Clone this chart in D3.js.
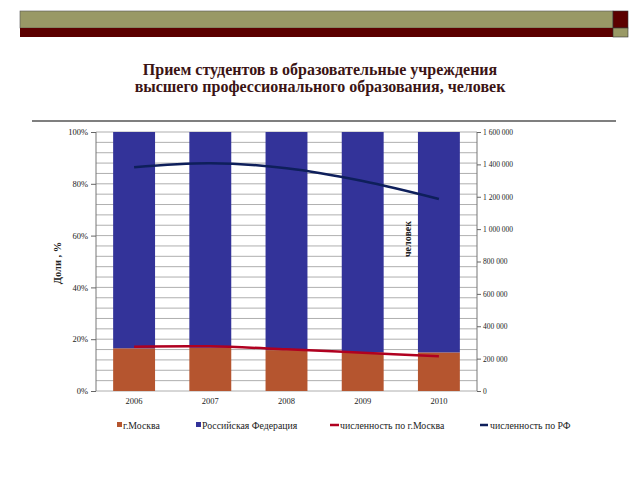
<!DOCTYPE html>
<html><head><meta charset="utf-8">
<script src="https://cdn.jsdelivr.net/npm/d3@7"></script>
<style>body{margin:0;background:#fff}svg{display:block}text{font-family:"Liberation Serif","Times New Roman",serif}</style>
</head><body>
<svg id="c" width="640" height="480"></svg>
<script>
const years = ["2006","2007","2008","2009","2010"];
const moscowShare = [16.5, 16.7, 15.8, 14.9, 14.9];
const rfShare = [83.5, 83.3, 84.2, 85.1, 85.1];
const moscowCount = [274000, 276000, 258000, 236000, 214000];
const rfCount = [1382000, 1407000, 1376000, 1297000, 1186000];
const leftTicks = [0, 20, 40, 60, 80, 100];
const rightTicks = [0, 200000, 400000, 600000, 800000, 1000000, 1200000, 1400000, 1600000];
const legendLabels = ["г.Москва", "Российская Федерация", "численность по  г.Москва", "численность по РФ"];
const titleLines = ["Прием студентов в образовательные учреждения", "высшего профессионального образования, человек"];

const svg = d3.select("#c");
const L = 96, R = 477, T = 132, B = 391;
const cMos = "#B5552F", cRF = "#333399", cLineM = "#B00020", cLineR = "#0E1F5B";

// top decoration
svg.append("rect").attr("x",20).attr("y",11).attr("width",593).attr("height",17).attr("fill","#999966").attr("stroke","#555").attr("stroke-width",0.6);
svg.append("rect").attr("x",20).attr("y",28).attr("width",593).attr("height",9).attr("fill","#5C0000");
svg.append("rect").attr("x",613).attr("y",11).attr("width",15).attr("height",17).attr("fill","#5C0000").attr("stroke","#333").attr("stroke-width",0.6);
svg.append("rect").attr("x",613).attr("y",28).attr("width",15).attr("height",9).attr("fill","#999966").attr("stroke","#333").attr("stroke-width",0.6);

// title
svg.append("g").selectAll("text").data(titleLines).join("text")
  .attr("x",320).attr("y",(d,i)=>75+i*17).attr("text-anchor","middle")
  .attr("font-size",16).attr("font-weight","bold").attr("fill","#3B1414").text(d=>d);
svg.append("line").attr("x1",32).attr("x2",616).attr("y1",121).attr("y2",121).attr("stroke","#555").attr("stroke-width",1.5);

const x = d3.scaleBand().domain(years).range([L,R]).paddingInner(0.45).paddingOuter(0.225);
const yL = d3.scaleLinear().domain([0,100]).range([B,T]);
const yR = d3.scaleLinear().domain([0,1600000]).range([B,T]);

// gridlines every 4%
svg.append("g").selectAll("line").data(d3.range(0,101,4)).join("line")
  .attr("x1",L).attr("x2",R).attr("y1",d=>yL(d)).attr("y2",d=>yL(d))
  .attr("stroke","#9a9a9a").attr("stroke-width",0.8);

// bars
const gb = svg.append("g");
gb.selectAll("rect.m").data(years).join("rect").attr("class","m")
  .attr("x",d=>x(d)).attr("width",x.bandwidth())
  .attr("y",(d,i)=>yL(moscowShare[i])).attr("height",(d,i)=>yL(0)-yL(moscowShare[i])).attr("fill",cMos);
gb.selectAll("rect.r").data(years).join("rect").attr("class","r")
  .attr("x",d=>x(d)).attr("width",x.bandwidth())
  .attr("y",(d,i)=>yL(moscowShare[i]+rfShare[i])).attr("height",(d,i)=>yL(moscowShare[i])-yL(moscowShare[i]+rfShare[i])).attr("fill",cRF);

// lines
const cx = d=>x(d)+x.bandwidth()/2;
const line = d3.line().x(d=>cx(d[0])).y(d=>yR(d[1])).curve(d3.curveCatmullRom);
svg.append("path").attr("d",line(years.map((d,i)=>[d,moscowCount[i]]))).attr("fill","none").attr("stroke",cLineM).attr("stroke-width",2.5);
svg.append("path").attr("d",line(years.map((d,i)=>[d,rfCount[i]]))).attr("fill","none").attr("stroke",cLineR).attr("stroke-width",2.5);

// axes
const axL = svg.append("g").attr("transform",`translate(${L},0)`)
  .call(d3.axisLeft(yL).tickValues(leftTicks).tickFormat(d=>d+"%").tickSize(5).tickPadding(3));
const axR = svg.append("g").attr("transform",`translate(${R},0)`)
  .call(d3.axisRight(yR).tickValues(rightTicks).tickFormat(d=>d3.format(",")(d).replace(/,/g," ")).tickSize(4).tickPadding(2));
const axB = svg.append("g").attr("transform",`translate(0,${B})`)
  .call(d3.axisBottom(x).tickSize(0).tickPadding(7));
[axL,axR,axB].forEach(a=>{a.selectAll("path").attr("stroke","#777"); a.selectAll("line").attr("stroke","#666");
  a.selectAll("text").attr("font-family","Liberation Serif, serif").attr("fill","#222");});
axL.selectAll("text").attr("font-size",8.5);
axR.selectAll("text").attr("font-size",7.5);
axB.selectAll("text").attr("font-size",8.5);
axB.select("path").remove();
axR.select("path").attr("d",`M0,${B}V${T}`);
axL.select("path").attr("d",`M0,${B}V${T}`);

// axis titles
svg.append("text").attr("transform","translate(61,263) rotate(-90)").attr("text-anchor","middle")
  .attr("font-size",10.5).attr("font-weight","bold").attr("fill","#222").text("Доли , %");
svg.append("text").attr("transform","translate(411,239) rotate(-90)").attr("text-anchor","middle")
  .attr("font-size",10).attr("font-weight","bold").attr("fill","#222").text("человек");

// legend
const lg = svg.append("g").attr("font-size",9.8).attr("fill","#222");
const lx = [117, 196, 330, 480];
lg.append("rect").attr("x",lx[0]).attr("y",422).attr("width",5).attr("height",5).attr("fill",cMos);
lg.append("rect").attr("x",lx[1]).attr("y",422).attr("width",5).attr("height",5).attr("fill",cRF);
lg.append("line").attr("x1",lx[2]).attr("x2",lx[2]+9).attr("y1",425).attr("y2",425).attr("stroke",cLineM).attr("stroke-width",2.5);
lg.append("line").attr("x1",lx[3]).attr("x2",lx[3]+8).attr("y1",425).attr("y2",425).attr("stroke",cLineR).attr("stroke-width",2.5);
lg.selectAll("text").data(legendLabels).join("text")
  .attr("x",(d,i)=>lx[i]+(i<2?6:10)).attr("y",428.5).text(d=>d);
</script>
</body></html>
